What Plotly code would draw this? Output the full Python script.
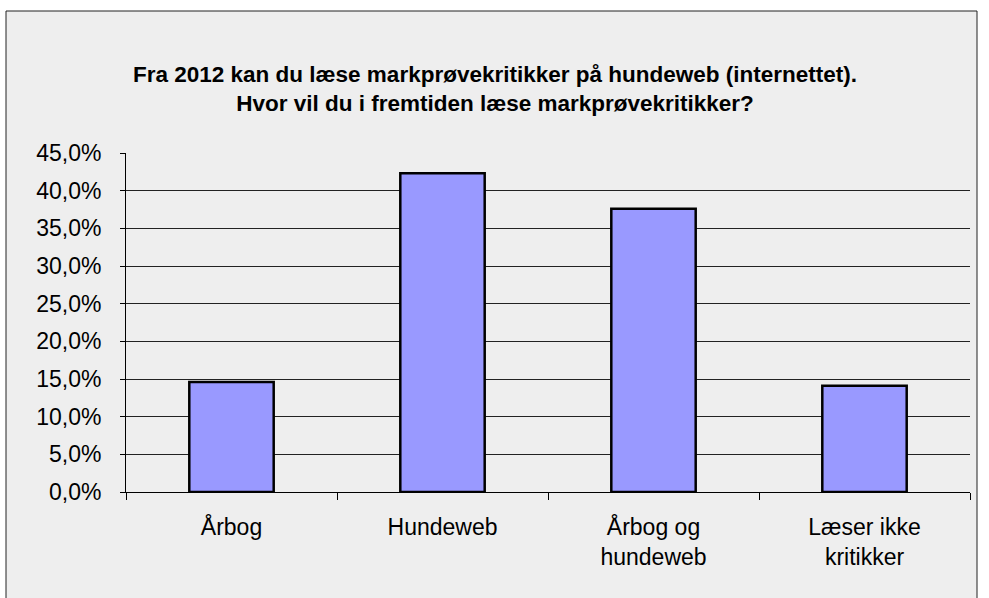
import plotly.graph_objects as go

# Survey answers, share of respondents (in %)
categories = ["Årbog", "Hundeweb", "Årbog og<br>hundeweb", "Læser ikke<br>kritikker"]
shares = [14.6, 42.3, 37.6, 14.1]

y_ticks = [0, 5, 10, 15, 20, 25, 30, 35, 40, 45]
y_labels = [f"{v:.1f}%".replace(".", ",") for v in y_ticks]

W, H = 989, 598
L, R, T, B = 126, 19, 153, 106
pw, ph = W - L - R, H - T - B
bottom = H - B

fig = go.Figure()
fig.add_trace(go.Bar(
    x=categories, y=shares,
    marker=dict(color="#9999ff", line=dict(color="black", width=2.5)),
    width=0.4,
))

# grey frame around the chart area, as in the spreadsheet export
fig.add_shape(type="rect", xref="paper", yref="paper", layer="below",
              x0=(6 - L) / pw, x1=(977 - L) / pw,
              y0=(bottom - 640) / ph, y1=(bottom - 11) / ph,
              line=dict(color="#222222", width=1), fillcolor="#eeeeee")

fig.update_layout(
    width=W, height=H,
    margin=dict(l=L, r=R, t=T, b=B),
    paper_bgcolor="white", plot_bgcolor="rgba(0,0,0,0)",
    showlegend=False,
    font=dict(family="Liberation Sans, Arial", size=23, color="black"),
    title=dict(
        text="<b>Fra 2012 kan du læse markprøvekritikker på hundeweb (internettet).<br>Hvor vil du i fremtiden læse markprøvekritikker?</b>",
        x=(495 - L) / pw, xref="paper", xanchor="center",
        y=1 - 82 / H, yanchor="middle",
        font=dict(size=22.5),
    ),
    xaxis=dict(
        showline=True, linecolor="black", linewidth=1,
        ticks="outside", ticklen=7, tickcolor="black", tickson="boundaries",
        ticklabelstandoff=14, showgrid=False,
    ),
    yaxis=dict(
        range=[0, 45], tickvals=y_ticks, ticktext=y_labels,
        showline=True, linecolor="black", linewidth=1,
        ticks="outside", ticklen=5, tickcolor="black",
        showgrid=True, gridcolor="#222222", gridwidth=1,
        ticklabelstandoff=14, zeroline=False,
    ),
)

fig.write_html("out.html", config={"displayModeBar": False},
               post_script="document.body.style.margin='0';")
